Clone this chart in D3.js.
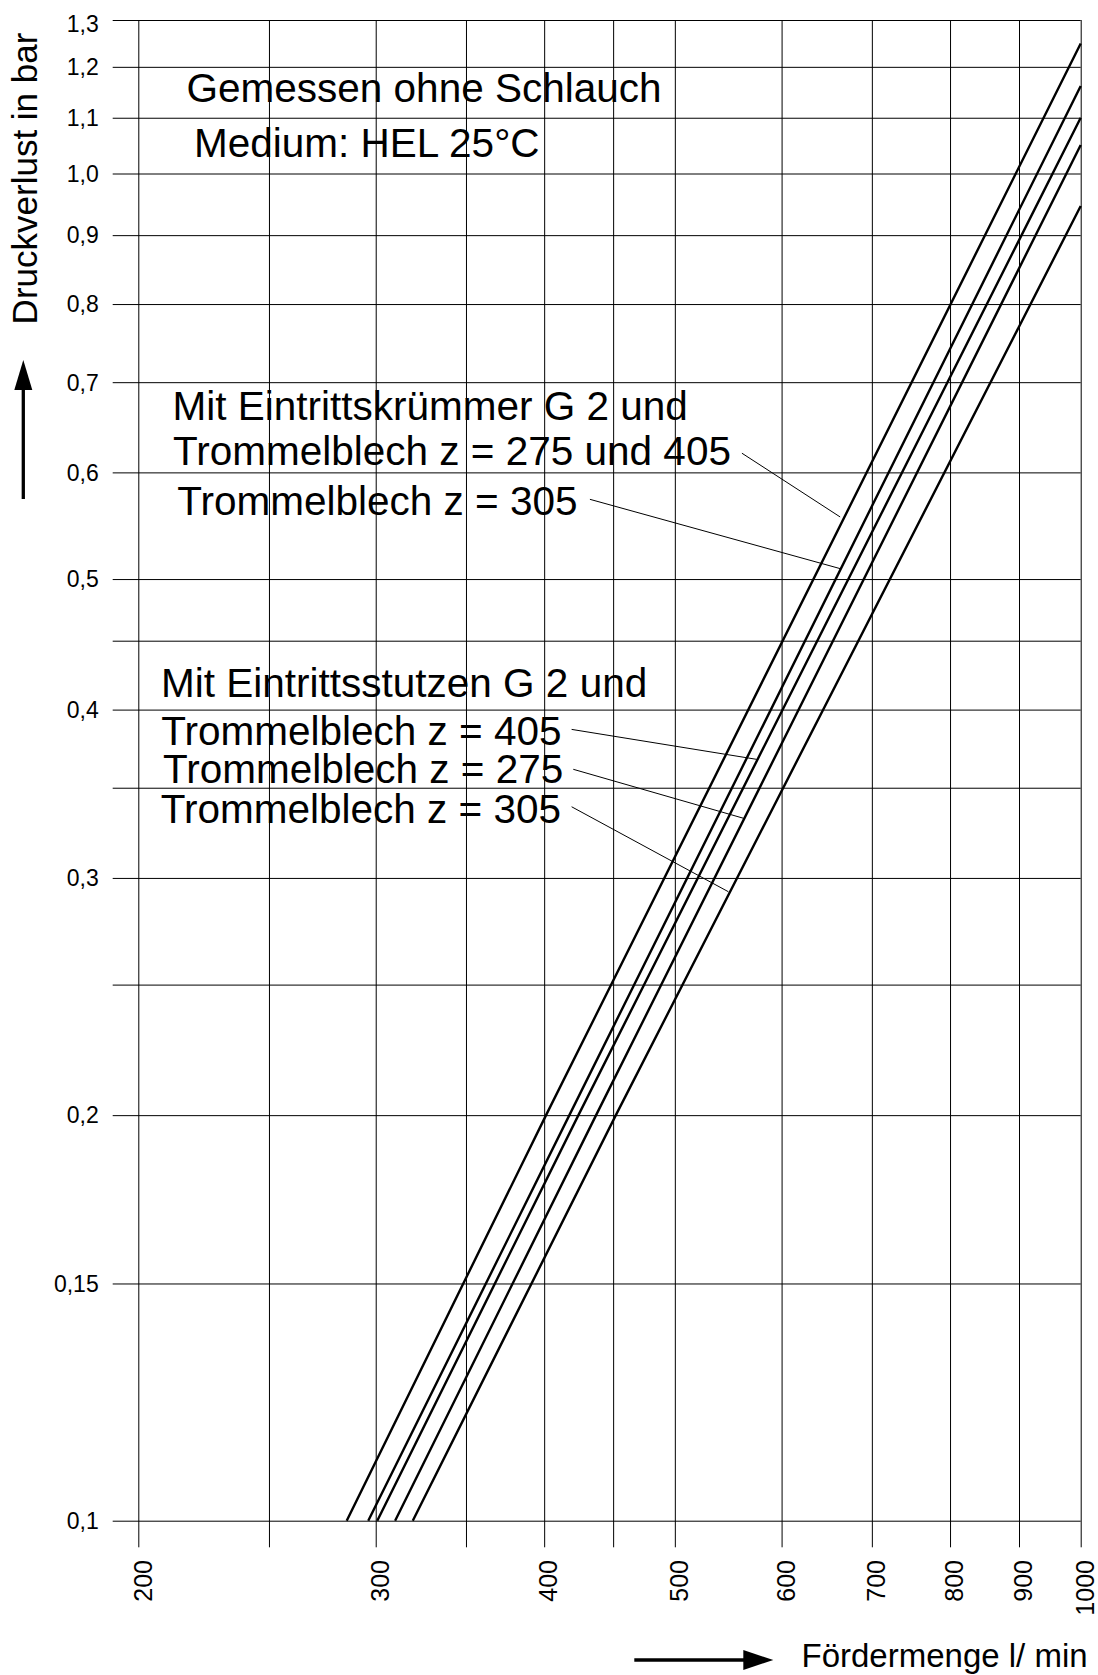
<!DOCTYPE html>
<html>
<head>
<meta charset="utf-8">
<script src="https://cdn.jsdelivr.net/npm/d3@7"></script>
<style>
  body { margin: 0; background: #fff; }
  svg { display: block; background: #fff; }
  text { font-family: "Liberation Sans", Arial, Helvetica, sans-serif; fill: #000; }
</style>
</head>
<body>
<svg id="chart" width="1098" height="1675"></svg>
<script>
// Foerdermenge (l/min) on x, Druckverlust (bar) on y - both log scales
const xTicks = [200, 250, 300, 350, 400, 450, 500, 600, 700, 800, 900, 1000];
const xTickLabels = ["200", "", "300", "", "400", "", "500", "600", "700", "800", "900", "1000"];
const yTicks = [0.1, 0.15, 0.2, 0.25, 0.3, 0.35, 0.4, 0.45, 0.5, 0.6, 0.7, 0.8, 0.9, 1.0, 1.1, 1.2, 1.3];
const yTickLabels = ["0,1", "0,15", "0,2", "", "0,3", "", "0,4", "", "0,5", "0,6", "0,7", "0,8", "0,9", "1,0", "1,1", "1,2", "1,3"];

// curves, [flow, bar]
const kruemmer275u405 = [[285.5, 0.1], [401.3, 0.2], [1000, 1.249]];
const kruemmer305 = [[296.2, 0.1], [417.6, 0.2], [1000, 1.1615]];
const stutzen405 = [[300.8, 0.1], [424.1, 0.2], [1000, 1.100]];
const stutzen275 = [[310.1, 0.1], [437.1, 0.2], [1000, 1.050]];
const stutzen305 = [[319.6, 0.1], [452.1, 0.2], [1000, 0.946]];

// leader lines label -> curve, [from, to] in data units
const leaders = [
  [[560.7, 0.620], [663.1, 0.556]],
  [[432.5, 0.573], [663.1, 0.509]],
  [[419.2, 0.3867], [575.0, 0.3674]],
  [[420.4, 0.3612], [562.2, 0.3322]],
  [[419.2, 0.3388], [547.9, 0.2930]]
];

const noteLines = ["Gemessen ohne Schlauch", "Medium: HEL 25°C"];
const kruemmerLines = ["Mit Eintrittskrümmer G 2 und", "Trommelblech z = 275 und 405", "Trommelblech z = 305"];
const stutzenLines = ["Mit Eintrittsstutzen G 2 und", "Trommelblech z = 405", "Trommelblech z = 275", "Trommelblech z = 305"];

const yTitle = "Druckverlust in bar";
const xTitle = "Fördermenge l/ min";

const svg = d3.select("#chart");

// plot box (px)
const plotL = 138.3, plotR = 1080.7, plotT = 20, plotB = 1520.7;
const gridLeft = 112.7, gridBottom = 1547.3;

const x = d3.scaleLog().domain([200, 1000]).range([plotL, plotR]);
const y = d3.scaleLog().domain([0.1, 1.3]).range([plotB, plotT]);

// horizontal grid + y labels
const yAxis = svg.append("g")
  .attr("transform", `translate(${plotR},0)`)
  .call(d3.axisLeft(y)
    .tickValues(yTicks)
    .tickFormat((d, i) => yTickLabels[i])
    .tickSize(plotR - gridLeft)
    .tickPadding(14));
yAxis.select(".domain").remove();
yAxis.attr("font-family", null);
yAxis.selectAll("line").attr("stroke", "#000").attr("stroke-width", 1);
yAxis.selectAll("text")
  .attr("font-size", 23)
  .attr("fill", "#000")
  .attr("dy", (d) => d === 1.3 ? "0.52em" : "0.34em");

// vertical grid + x labels
const xAxis = svg.append("g")
  .attr("transform", `translate(0,${plotT})`)
  .call(d3.axisBottom(x)
    .tickValues(xTicks)
    .tickFormat((d, i) => xTickLabels[i])
    .tickSize(gridBottom - plotT));
xAxis.select(".domain").remove();
xAxis.attr("font-family", null);
xAxis.selectAll("line").attr("stroke", "#000").attr("stroke-width", 1);
xAxis.selectAll("text")
  .attr("font-size", 25)
  .attr("fill", "#000")
  .attr("transform", "rotate(-90)")
  .attr("text-anchor", "end")
  .attr("x", -(1560 - plotT))
  .attr("y", 4)
  .attr("dy", "0.35em");

// curves
const line = d3.line().x(d => x(d[0])).y(d => y(d[1]));
const curves = [kruemmer275u405, kruemmer305, stutzen405, stutzen275, stutzen305];
svg.append("g").selectAll("path")
  .data(curves)
  .join("path")
  .attr("d", line)
  .attr("fill", "none")
  .attr("stroke", "#000")
  .attr("stroke-width", 2.4);

// leader lines
svg.append("g").selectAll("line")
  .data(leaders)
  .join("line")
  .attr("x1", d => x(d[0][0]))
  .attr("y1", d => y(d[0][1]))
  .attr("x2", d => x(d[1][0]))
  .attr("y2", d => y(d[1][1]))
  .attr("stroke", "#000")
  .attr("stroke-width", 1);

// annotation texts
const big = 40.5;
const notePos = [[186.5, 101.7], [194, 156.7]];
const kruemmerPos = [[172.5, 420], [173, 465], [177.3, 515]];
const stutzenPos = [[161, 696.7], [161.3, 745], [163, 782.7], [160.7, 823.3]];

function addLines(lines, pos) {
  svg.append("g").selectAll("text")
    .data(lines)
    .join("text")
    .attr("x", (d, i) => pos[i][0])
    .attr("y", (d, i) => pos[i][1])
    .attr("font-size", big)
    .text(d => d);
}
addLines(noteLines, notePos);
addLines(kruemmerLines, kruemmerPos);
addLines(stutzenLines, stutzenPos);

// axis titles
svg.append("text")
  .attr("transform", "translate(36.5,178.5) rotate(-90)")
  .attr("text-anchor", "middle")
  .attr("font-size", 35)
  .text(yTitle);

svg.append("text")
  .attr("x", 801.5)
  .attr("y", 1666.7)
  .attr("font-size", 33)
  .text(xTitle);

// arrows
svg.append("line")
  .attr("x1", 23.3).attr("y1", 499)
  .attr("x2", 23.3).attr("y2", 385)
  .attr("stroke", "#000").attr("stroke-width", 3.3);
svg.append("path")
  .attr("d", "M23.3,360 L32.3,390 L14.3,390 Z")
  .attr("fill", "#000");

svg.append("line")
  .attr("x1", 634.3).attr("y1", 1660)
  .attr("x2", 748).attr("y2", 1660)
  .attr("stroke", "#000").attr("stroke-width", 3.3);
svg.append("path")
  .attr("d", "M773.3,1660 L743.3,1650 L743.3,1670 Z")
  .attr("fill", "#000");
</script>
</body>
</html>
